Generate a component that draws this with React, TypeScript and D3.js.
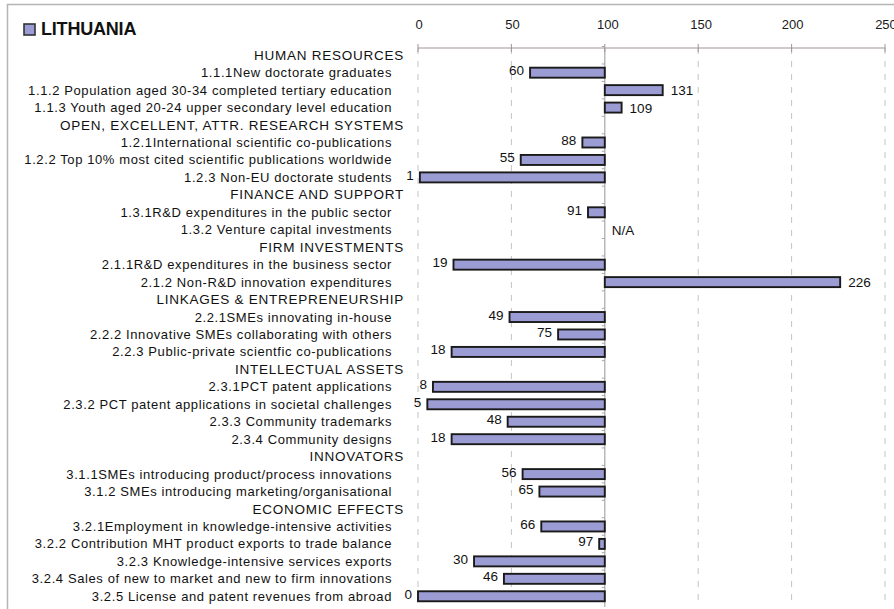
import { useEffect, useRef } from 'react';
import * as d3 from 'd3';

const WIDTH = 894;
const HEIGHT = 609;

// rows in display order
const labels = [
  'HUMAN RESOURCES',
  '1.1.1New doctorate graduates',
  '1.1.2 Population aged 30-34 completed tertiary education',
  '1.1.3 Youth aged 20-24 upper secondary level education',
  'OPEN, EXCELLENT, ATTR. RESEARCH SYSTEMS',
  '1.2.1International scientific co-publications',
  '1.2.2 Top 10% most cited scientific publications worldwide',
  '1.2.3 Non-EU doctorate students',
  'FINANCE AND SUPPORT',
  '1.3.1R&D expenditures in the public sector',
  '1.3.2 Venture capital investments',
  'FIRM INVESTMENTS',
  '2.1.1R&D expenditures in the business sector',
  '2.1.2 Non-R&D innovation expenditures',
  'LINKAGES & ENTREPRENEURSHIP',
  '2.2.1SMEs innovating in-house',
  '2.2.2 Innovative SMEs collaborating with others',
  '2.2.3 Public-private scientfic co-publications',
  'INTELLECTUAL ASSETS',
  '2.3.1PCT patent applications',
  '2.3.2 PCT patent applications in societal challenges',
  '2.3.3 Community trademarks',
  '2.3.4 Community designs',
  'INNOVATORS',
  '3.1.1SMEs introducing product/process innovations',
  '3.1.2 SMEs introducing marketing/organisational',
  'ECONOMIC EFFECTS',
  '3.2.1Employment in knowledge-intensive activities',
  '3.2.2 Contribution MHT product exports to trade balance',
  '3.2.3 Knowledge-intensive services exports',
  '3.2.4 Sales of new to market and new to firm innovations',
  '3.2.5 License and patent revenues from abroad',
];

const isHeader = [
  true, false, false, false,
  true, false, false, false,
  true, false, false,
  true, false, false,
  true, false, false, false,
  true, false, false, false, false,
  true, false, false,
  true, false, false, false, false, false,
];

// null = header row, 'NA' = not available
const values: (number | null | 'NA')[] = [
  null, 60, 131, 109,
  null, 88, 55, 1,
  null, 91, 'NA',
  null, 19, 226,
  null, 49, 75, 18,
  null, 8, 5, 48, 18,
  null, 56, 65,
  null, 66, 97, 30, 46, 0,
];

const ticks = [0, 50, 100, 150, 200, 250];

function App() {
  const svgRef = useRef(null);

  useEffect(() => {
    const svg = d3.select(svgRef.current);
    svg.selectAll('*').remove();

    const x = d3.scaleLinear().domain([0, 250]).range([418, 885]);
    const y = d3.scaleBand<number>()
      .domain(labels.map((_, i) => i))
      .range([46.5, 605])
      .padding(0);

    const font = '"Liberation Sans", Arial, sans-serif';

    // frame
    svg.append('rect')
      .attr('x', 7.5).attr('y', 4.5)
      .attr('width', 900).attr('height', 620)
      .attr('fill', '#fff')
      .attr('stroke', '#b5b5b5')
      .attr('stroke-width', 1.5);

    // gridlines
    svg.append('g')
      .selectAll('line')
      .data(ticks.filter((t) => t !== 100))
      .join('line')
      .attr('x1', (d) => x(d)).attr('x2', (d) => x(d))
      .attr('y1', 48).attr('y2', 607)
      .attr('stroke', '#c4c4c4')
      .attr('stroke-dasharray', '6,7');

    // baseline at 100
    svg.append('line')
      .attr('x1', x(100)).attr('x2', x(100))
      .attr('y1', 48).attr('y2', 607)
      .attr('stroke', '#a8a8a8')
      .attr('stroke-width', 1.2);

    svg.append('g')
      .selectAll('line')
      .data(labels.map((_, i) => i))
      .join('line')
      .attr('x1', x(100) - 3).attr('x2', x(100))
      .attr('y1', (d) => y(d)!).attr('y2', (d) => y(d)!)
      .attr('stroke', '#a8a8a8');

    // top axis
    const axis = svg.append('g');
    axis.append('line')
      .attr('x1', x(0)).attr('x2', x(250))
      .attr('y1', 48).attr('y2', 48)
      .attr('stroke', '#a09494')
      .attr('stroke-width', 1.2);
    axis.selectAll('line.tk')
      .data(ticks)
      .join('line')
      .attr('class', 'tk')
      .attr('x1', (d) => x(d)).attr('x2', (d) => x(d))
      .attr('y1', 44).attr('y2', 52)
      .attr('stroke', '#a09494');
    axis.selectAll('text')
      .data(ticks)
      .join('text')
      .attr('x', (d) => x(d) + (d >= 100 && d < 200 ? 3 : 1))
      .attr('y', 29)
      .attr('text-anchor', 'middle')
      .attr('font-family', font)
      .attr('font-size', 13)
      .attr('fill', '#1a1a1a')
      .text((d) => d);

    // legend
    svg.append('rect')
      .attr('x', 24).attr('y', 24)
      .attr('width', 11).attr('height', 11)
      .attr('fill', '#9c9cd4')
      .attr('stroke', '#333')
      .attr('stroke-width', 1.6);
    svg.append('text')
      .attr('x', 41).attr('y', 35)
      .attr('font-family', font)
      .attr('font-size', 18)
      .attr('font-weight', 'bold')
      .attr('letter-spacing', -0.2)
      .attr('fill', '#111')
      .text('LITHUANIA');

    // category labels
    svg.append('g')
      .selectAll('text')
      .data(labels.map((l, i) => ({ l, i })))
      .join('text')
      .attr('x', (d) => (isHeader[d.i] ? 404 : 392))
      .attr('y', (d) => y(d.i)! + y.bandwidth() / 2 + 4.5)
      .attr('text-anchor', 'end')
      .attr('font-family', font)
      .attr('font-size', (d) => (isHeader[d.i] ? 13.5 : 13))
      .attr('letter-spacing', (d) => (isHeader[d.i] ? 0.75 : 0.6))
      .attr('fill', '#111')
      .text((d) => d.l);

    const rows = values
      .map((v, i) => ({ v, i }))
      .filter((d) => typeof d.v === 'number') as { v: number; i: number }[];

    const barH = 10;

    svg.append('g')
      .selectAll('rect')
      .data(rows)
      .join('rect')
      .attr('x', (d) => x(Math.min(d.v, 100)))
      .attr('y', (d) => y(d.i)! + y.bandwidth() / 2 - barH / 2)
      .attr('width', (d) => Math.abs(x(d.v) - x(100)))
      .attr('height', barH)
      .attr('fill', '#9c9cd4')
      .attr('stroke', '#1a1a1a')
      .attr('stroke-width', 1.9);

    svg.append('g')
      .selectAll('text')
      .data(rows)
      .join('text')
      .attr('x', (d) => (d.v < 100 ? x(d.v) - 6 : x(d.v) + 8))
      .attr('y', (d) => y(d.i)! + y.bandwidth() / 2 + (d.v < 100 ? 2.5 : 5))
      .attr('text-anchor', (d) => (d.v < 100 ? 'end' : 'start'))
      .attr('font-family', font)
      .attr('font-size', 13.5)
      .attr('fill', '#111')
      .text((d) => d.v);

    // N/A
    values.forEach((v, i) => {
      if (v !== 'NA') return;
      svg.append('text')
        .attr('x', x(100) + 7)
        .attr('y', y(i)! + y.bandwidth() / 2 + 5)
        .attr('font-family', font)
        .attr('font-size', 13.5)
        .attr('fill', '#111')
        .text('N/A');
    });
  }, []);

  return (
    <svg
      ref={svgRef}
      width={WIDTH}
      height={HEIGHT}
      style={{ position: 'absolute', left: 0, top: 0, background: '#fff' }}
    />
  );
}

export default App;
